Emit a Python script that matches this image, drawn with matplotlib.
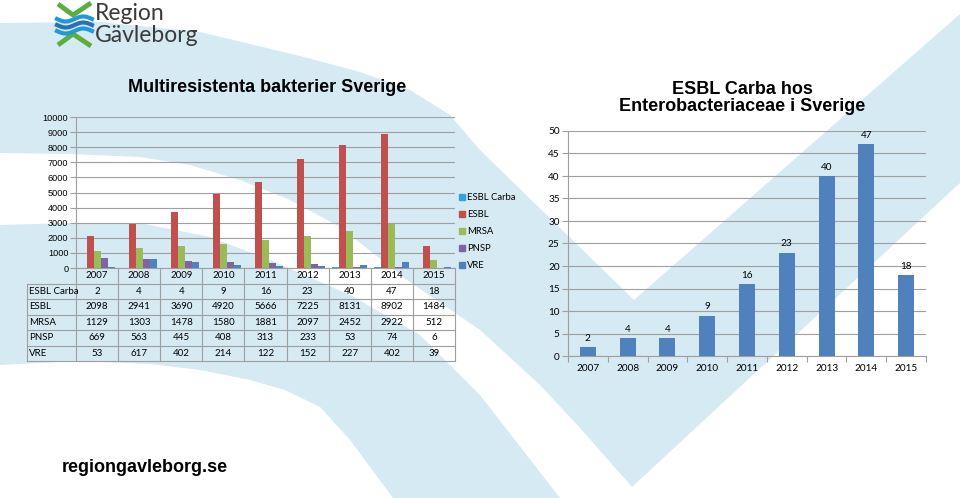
import numpy as np
import matplotlib
matplotlib.use("Agg")
import matplotlib.pyplot as plt
from matplotlib import font_manager
from matplotlib.patches import Polygon
from matplotlib.lines import Line2D

# --- data ---
years = ['2007', '2008', '2009', '2010', '2011', '2012', '2013', '2014', '2015']
series_names = ['ESBL Carba', 'ESBL', 'MRSA', 'PNSP', 'VRE']
esbl_carba = [2, 4, 4, 9, 16, 23, 40, 47, 18]
esbl = [2098, 2941, 3690, 4920, 5666, 7225, 8131, 8902, 1484]
mrsa = [1129, 1303, 1478, 1580, 1881, 2097, 2452, 2922, 512]
pnsp = [669, 563, 445, 408, 313, 233, 53, 74, 6]
vre = [53, 617, 402, 214, 122, 152, 227, 402, 39]
series_colors = ['#2BA7D9', '#C0504D', '#9BBB59', '#8064A2', '#4F81BD']

W, H = 960, 498
GRID = '#9f9f9f'
LIGHT = '#D6EAF4'
CAL = ['Lato', 'DejaVu Sans']       # stands in for Calibri
ARIAL = ['Liberation Sans', 'DejaVu Sans']


def rect(x0, y0, x1, y1):
    # pixel box (top-left origin) -> figure fraction
    return [x0 / W, 1 - y1 / H, (x1 - x0) / W, (y1 - y0) / H]


def has_font(name):
    try:
        font_manager.findfont(name, fallback_to_default=False)
        return True
    except Exception:
        return False


fig = plt.figure(figsize=(W / 100, H / 100), dpi=100)

# background swooshes
bg = fig.add_axes([0, 0, 1, 1])
bg.set_xlim(0, W)
bg.set_ylim(H, 0)
bg.axis('off')
big_swoosh = [(0, 23), (100, 22), (200, 32), (300, 56), (360, 72), (410, 90),
              (450, 115), (480, 150), (634, 300), (960, 14), (960, 183),
              (632, 487), (580, 428), (540, 385), (480, 330), (407, 280),
              (340, 227), (290, 200), (240, 180), (190, 165), (140, 157),
              (70, 154), (0, 153)]
low_swoosh = [(0, 225), (70, 223), (140, 223), (210, 237), (275, 262),
              (350, 295), (420, 335), (480, 395), (560, 498), (393, 498),
              (350, 440), (320, 407), (285, 390), (250, 380), (200, 370),
              (150, 364), (80, 361), (0, 365)]
for pts in (big_swoosh, low_swoosh):
    bg.add_patch(Polygon(pts, closed=True, facecolor=LIGHT, edgecolor='none'))

# logo mark
green, blue1, blue2 = '#5CAE3F', '#1F9AD6', '#2B6FB6'
bg.plot([58, 73, 91], [4, 15, 3], color=green, lw=3.5, solid_capstyle='butt')
bg.plot([58, 73, 91], [45, 34, 46], color=green, lw=3.5, solid_capstyle='butt')
t = np.linspace(0, 1, 60)
for yy, c in zip([19, 25, 31], [blue1, blue2, blue1]):
    bg.plot(57 + 35 * t, yy + 2.5 * np.sin(2 * np.pi * t), color=c, lw=3)
fig.text(95 / W, 1 - 20 / H, 'Region', fontsize=16.5, color='#3a3a3a',
         family=CAL, va='baseline', ha='left')
fig.text(95 / W, 1 - 42 / H, 'Gävleborg', fontsize=16.5, color='#3a3a3a',
         family=CAL, va='baseline', ha='left')

# footer
if has_font('Liberation Sans Narrow'):
    fig.text(62 / W, 1 - 467 / H, 'regiongavleborg.se', fontsize=15.5,
             family=['Liberation Sans Narrow'], weight='bold', va='center')
else:
    fig.text(62 / W, 1 - 467 / H, 'regiongavleborg.se', fontsize=13,
             family=ARIAL, weight='bold', va='center')

# --- left chart: Multiresistenta bakterier ---
ax1 = fig.add_axes(rect(76, 117, 455, 268))
ax1.set_facecolor('none')
all_series = [esbl_carba, esbl, mrsa, pnsp, vre]
x = np.arange(len(years)) + 0.5
bw = 1 / 6
for k, (vals, col) in enumerate(zip(all_series, series_colors)):
    ax1.bar(x + (k - 2) * bw, vals, bw, color=col, zorder=3)
ax1.set_xlim(0, len(years))
ax1.set_ylim(0, 10000)
ax1.set_yticks(range(0, 10001, 1000))
ax1.set_xticks([])
ax1.grid(axis='y', color=GRID, lw=0.8, zorder=0)
for s in ['top', 'right']:
    ax1.spines[s].set_visible(False)
for s in ['left', 'bottom']:
    ax1.spines[s].set_color(GRID)
    ax1.spines[s].set_linewidth(0.8)
ax1.tick_params(axis='y', length=4, width=0.8, color=GRID, pad=1.5, labelsize=6.6)
for lab in ax1.get_yticklabels():
    lab.set_family(ARIAL)

fig.text(267 / W, 1 - 87 / H, 'Multiresistenta bakterier Sverige', fontsize=13,
         weight='bold', family=ARIAL, ha='center', va='center')

# data table under the left chart
trans = ax1.get_xaxis_transform()
ax_h = 268 - 117


def yfrac(ypx):
    return (268 - ypx) / ax_h


row_h = 15.5
row_edges = [268 + row_h * i for i in range(len(series_names) + 2)]
label_left = -(76 - 27) / ((455 - 76) / len(years))
line_kw = dict(color=GRID, lw=0.8, transform=trans, clip_on=False)
for ye in row_edges[1:]:
    ax1.plot([label_left, len(years)], [yfrac(ye)] * 2, **line_kw)
ax1.plot([label_left, label_left], [yfrac(row_edges[1]), yfrac(row_edges[-1])], **line_kw)
for i in range(len(years) + 1):
    ax1.plot([i, i], [yfrac(row_edges[0]), yfrac(row_edges[-1])], **line_kw)
for i, yr in enumerate(years):
    ax1.text(i + 0.5, yfrac(row_edges[0] + row_h / 2), yr, transform=trans,
             ha='center', va='center', fontsize=7, family=CAL)
for r, (name, vals) in enumerate(zip(series_names, all_series)):
    yc = yfrac(row_edges[r + 1] + row_h / 2)
    ax1.text(label_left + 0.05, yc, name, transform=trans, ha='left',
             va='center', fontsize=7, family=CAL)
    for i, v in enumerate(vals):
        ax1.text(i + 0.5, yc, str(v), transform=trans, ha='center',
                 va='center', fontsize=7, family=CAL)

handles = [Line2D([], [], marker='s', ls='none', markersize=4.5, color=c)
           for c in series_colors]
fig.legend(handles, series_names, loc='upper left',
           bbox_to_anchor=(457 / W, 1 - 193 / H), frameon=False,
           prop={'family': CAL, 'size': 6.8}, labelspacing=0.85,
           handletextpad=0.1, handlelength=1.0, borderpad=0, borderaxespad=0)

# --- right chart: ESBL Carba ---
ax2 = fig.add_axes(rect(568, 131, 926, 356))
ax2.set_facecolor('none')
xi = np.arange(len(years))
bars = ax2.bar(xi, esbl_carba, 0.4, color='#4F81BD', zorder=3)
ax2.bar_label(bars, padding=3, fontsize=7.2, family=CAL)
ax2.set_xlim(-0.5, len(years) - 0.5)
ax2.set_ylim(0, 50)
ax2.set_yticks(range(0, 51, 5))
ax2.set_xticks(xi)
ax2.set_xticklabels(years)
ax2.set_xticks(np.arange(len(years) + 1) - 0.5, minor=True)
ax2.tick_params(axis='x', which='major', length=0, pad=6, labelsize=7.2)
ax2.tick_params(axis='x', which='minor', length=4, width=0.8, color=GRID)
ax2.tick_params(axis='y', length=4, width=0.8, color=GRID, pad=2, labelsize=7.2)
for lab in ax2.get_xticklabels() + ax2.get_yticklabels():
    lab.set_family(CAL)
ax2.grid(axis='y', color=GRID, lw=0.8, zorder=0)
for s in ['top', 'right']:
    ax2.spines[s].set_visible(False)
for s in ['left', 'bottom']:
    ax2.spines[s].set_color(GRID)
    ax2.spines[s].set_linewidth(0.8)

fig.text(742 / W, 1 - 98 / H, 'ESBL Carba hos\nEnterobacteriaceae i Sverige',
         fontsize=13, weight='bold', family=ARIAL, ha='center', va='center',
         linespacing=1.05)

fig.savefig('out.png', dpi=100)
